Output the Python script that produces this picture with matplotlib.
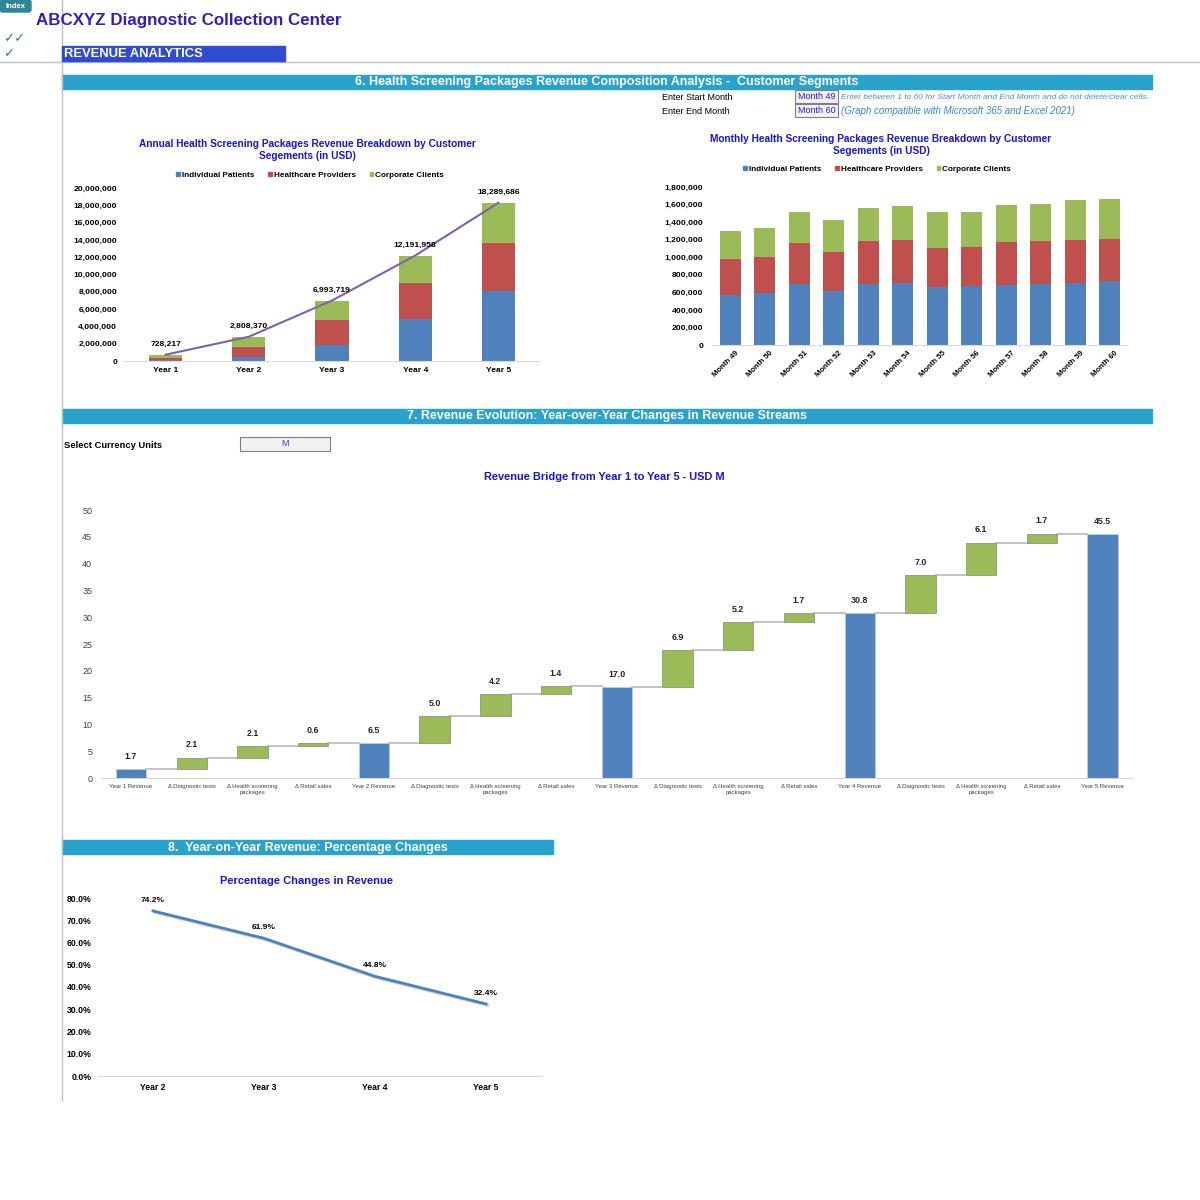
import matplotlib
matplotlib.use("Agg")
import matplotlib.pyplot as plt
from matplotlib.patches import Rectangle, FancyBboxPatch, Patch
from matplotlib.ticker import FuncFormatter
from matplotlib.transforms import ScaledTranslation
import matplotlib.patheffects as pe

plt.rcParams['font.family'] = ['Liberation Sans', 'DejaVu Sans']

# ---- data ----
years = ["Year 1", "Year 2", "Year 3", "Year 4", "Year 5"]
annual_individual = [150000, 420000, 1850000, 4850000, 8100000]
annual_providers = [250000, 1230000, 2850000, 4200000, 5500000]
annual_totals = [728217, 2808370, 6993719, 12191958, 18289686]
annual_corporate = [t - a - b for t, a, b in zip(annual_totals, annual_individual, annual_providers)]

months = ["Month 49", "Month 50", "Month 51", "Month 52", "Month 53", "Month 54",
          "Month 55", "Month 56", "Month 57", "Month 58", "Month 59", "Month 60"]
month_individual = [570000, 595000, 700000, 620000, 695000, 710000, 660000, 670000, 685000, 695000, 710000, 730000]
month_providers = [405000, 405000, 465000, 445000, 490000, 490000, 445000, 445000, 490000, 490000, 490000, 480000]
month_corporate = [325000, 330000, 355000, 355000, 380000, 380000, 405000, 405000, 425000, 425000, 450000, 455000]

segments = ["Individual Patients", "Healthcare Providers", "Corporate Clients"]

bridge_totals = [1.7, 6.5, 17.0, 30.8, 45.5]
bridge_deltas = [[2.1, 2.1, 0.6], [5.0, 4.2, 1.4], [6.9, 5.2, 1.7], [7.0, 6.1, 1.7]]
delta_names = ["Δ Diagnostic tests", "Δ Health screening\npackages", "Δ Retail sales"]

pct_years = ["Year 2", "Year 3", "Year 4", "Year 5"]
pct_change = [0.742, 0.619, 0.448, 0.324]

BLUE = "#4F81BD"
RED = "#C0504D"
GREEN = "#9BBB59"
PURPLE = "#8064A2"
BAND = "#29A3CC"
TITLE_BLUE = "#1414E6"

fig = plt.figure(figsize=(12, 12), dpi=100)

base = fig.add_axes([0, 0, 1, 1])
base.set_xlim(0, 1200)
base.set_ylim(1200, 0)
base.axis("off")


def px_axes(x0, y0, x1, y1):
    return fig.add_axes([x0 / 1200, 1 - y1 / 1200, (x1 - x0) / 1200, (y1 - y0) / 1200])


def band(x0, x1, y0, y1, text, cx=None):
    base.add_patch(Rectangle((x0, y0), x1 - x0, y1 - y0, color=BAND, zorder=1))
    if cx is None:
        cx = (x0 + x1) / 2
    base.text(cx, (y0 + y1) / 2 + 0.5, text, color="white", fontsize=9, fontweight="bold",
              ha="center", va="center")


# ---- page furniture ----
base.plot([62, 62], [0, 1100], color="#BDBDBD", lw=1)
base.plot([0, 1200], [62, 62], color="#BDBDBD", lw=1)
base.add_patch(FancyBboxPatch((0, 0), 31, 12, boxstyle="round,pad=0,rounding_size=2.5",
                              color="#2F8597", zorder=2))
base.text(15.5, 6, "Index", color="white", fontsize=5.5, fontweight="bold", ha="center", va="center", zorder=3)
base.text(36, 21, "ABCXYZ Diagnostic Collection Center", color="#2E1FC0", fontsize=12.2,
          fontweight="bold", ha="left", va="center")
base.text(3, 39, "✓✓", color="#2E8B57", fontsize=9.5, ha="left", va="center", family="DejaVu Sans")
base.text(3, 54, "✓", color="#2E8B57", fontsize=9.5, ha="left", va="center", family="DejaVu Sans")
base.add_patch(Rectangle((62, 46), 223, 15, color="#2E4BD2", zorder=2))
base.text(64, 54, "REVENUE ANALYTICS", color="white", fontsize=9.4, fontweight="bold",
          ha="left", va="center", zorder=3)

band(62, 1152, 75, 89, "6. Health Screening Packages Revenue Composition Analysis -  Customer Segments", cx=607)
band(62, 1152, 409, 423, "7. Revenue Evolution: Year-over-Year Changes in Revenue Streams", cx=607)
band(62, 553, 840, 854, "8.  Year-on-Year Revenue: Percentage Changes")

base.text(662, 97, "Enter Start Month", fontsize=6.5, ha="left", va="center")
base.text(662, 111, "Enter End Month", fontsize=6.5, ha="left", va="center")
for yy, lab in [(90, "Month 49"), (104, "Month 60")]:
    base.add_patch(Rectangle((795, yy), 43, 13, facecolor="#F2F2F2", edgecolor="#808080", lw=0.8))
    base.text(816.5, yy + 6.5, lab, color="#1F1FF0", fontsize=6.5, ha="center", va="center")
base.text(841, 97.5, "Enter between 1 to 60 for Start Month and End Month and do not delete/clear cells.",
          color="#4A90D0", fontsize=6, style="italic", ha="left", va="center")
base.text(841, 111, "(Graph compatible with Microsoft 365 and Excel 2021)",
          color="#3A86D0", fontsize=7, style="italic", ha="left", va="center")

base.text(64, 445, "Select Currency Units", fontsize=6.75, fontweight="bold", ha="left", va="center")
base.add_patch(Rectangle((240, 437), 90, 14, facecolor="#F2F2F2", edgecolor="#808080", lw=0.8))
base.text(285, 443.5, "M", color="#3A3AF0", fontsize=6.5, ha="center", va="center")

# chart titles
base.text(307, 150, "Annual Health Screening Packages Revenue Breakdown by Customer\nSegements (in USD)",
          color=TITLE_BLUE, fontsize=7.3, fontweight="bold", ha="center", va="center", linespacing=1.2)
base.text(881, 145, "Monthly Health Screening Packages Revenue Breakdown by Customer\nSegements (in USD)",
          color=TITLE_BLUE, fontsize=7.3, fontweight="bold", ha="center", va="center", linespacing=1.2)
base.text(604, 477.5, "Revenue Bridge from Year 1 to Year 5 - USD M",
          color=TITLE_BLUE, fontsize=7.9, fontweight="bold", ha="center", va="center")
base.text(306, 881.5, "Percentage Changes in Revenue",
          color=TITLE_BLUE, fontsize=8, fontweight="bold", ha="center", va="center")

thousands = FuncFormatter(lambda v, p: f"{int(v):,}")
handles = [Patch(color=BLUE), Patch(color=RED), Patch(color=GREEN)]


def style_axes(ax, pad, size=6.1, weight="bold", color="black"):
    for s in ["top", "right", "left"]:
        ax.spines[s].set_visible(False)
    ax.spines["bottom"].set_color("#D9D9D9")
    ax.tick_params(length=0, pad=pad)
    for lab in ax.get_yticklabels() + ax.get_xticklabels():
        lab.set_fontsize(size)
        lab.set_fontweight(weight)
        lab.set_color(color)


# ---- chart 1: annual stacked ----
ax1 = px_axes(124, 188, 540, 361)
x = range(len(years))
ax1.bar(x, annual_individual, width=0.4, color=BLUE)
ax1.bar(x, annual_providers, width=0.4, bottom=annual_individual, color=RED)
b2 = [a + b for a, b in zip(annual_individual, annual_providers)]
ax1.bar(x, annual_corporate, width=0.4, bottom=b2, color=GREEN)
ax1.plot(x, annual_totals, color=PURPLE, lw=1.5)
for i, t in enumerate(annual_totals):
    ax1.annotate(f"{t:,}", (i, t), xytext=(0, 5), textcoords="offset points",
                 ha="center", va="bottom", fontsize=6.1, fontweight="bold")
ax1.set_xlim(-0.5, 4.5)
ax1.set_ylim(0, 20000000)
ax1.set_yticks(range(0, 20000001, 2000000))
ax1.yaxis.set_major_formatter(thousands)
ax1.set_xticks(list(x))
ax1.set_xticklabels(years)
style_axes(ax1, pad=5)
ax1.tick_params(axis="x", pad=4)
ax1.legend(handles, segments, loc="center", bbox_to_anchor=(310 / 1200, 1 - 175.5 / 1200),
           bbox_transform=fig.transFigure, ncol=3, frameon=False, handlelength=0.45,
           handleheight=0.45, handletextpad=0.25, columnspacing=1.7,
           prop={"size": 5.9, "weight": "bold"})

# ---- chart 2: monthly stacked ----
ax2 = px_axes(713, 187, 1127, 345)
xm = range(len(months))
ax2.bar(xm, month_individual, width=0.6, color=BLUE)
ax2.bar(xm, month_providers, width=0.6, bottom=month_individual, color=RED)
mb = [a + b for a, b in zip(month_individual, month_providers)]
ax2.bar(xm, month_corporate, width=0.6, bottom=mb, color=GREEN)
ax2.set_xlim(-0.5, 11.5)
ax2.set_ylim(0, 1800000)
ax2.set_yticks(range(0, 1800001, 200000))
ax2.yaxis.set_major_formatter(thousands)
ax2.set_xticks(list(xm))
ax2.set_xticklabels(months, rotation=45, ha="right", rotation_mode="anchor")
style_axes(ax2, pad=7, size=6.1)
ax2.tick_params(axis="x", pad=3)
shift = ScaledTranslation(5 / 100, 0, fig.dpi_scale_trans)
for lab in ax2.get_xticklabels():
    lab.set_fontsize(5.5)
    lab.set_transform(lab.get_transform() + shift)

ax2.legend(handles, segments, loc="center", bbox_to_anchor=(877 / 1200, 1 - 169.5 / 1200),
           bbox_transform=fig.transFigure, ncol=3, frameon=False, handlelength=0.45,
           handleheight=0.45, handletextpad=0.25, columnspacing=1.7,
           prop={"size": 5.9, "weight": "bold"})

# ---- chart 3: revenue bridge ----
ax3 = px_axes(100.6, 510, 1133, 778)
labels = []
bottoms = []
heights = []
colors = []
for i, tot in enumerate(bridge_totals):
    labels.append(f"Year {i + 1} Revenue")
    bottoms.append(0)
    heights.append(tot)
    colors.append(BLUE)
    if i < len(bridge_deltas):
        run = tot
        for name, d in zip(delta_names, bridge_deltas[i]):
            labels.append(name)
            bottoms.append(run)
            heights.append(d)
            colors.append(GREEN)
            run += d
w = 0.5
xs = list(range(len(labels)))
for xi, b, h, c in zip(xs, bottoms, heights, colors):
    ec = "#8A9A7A" if c == GREEN else "#B8CCE4"
    ax3.bar(xi, h, bottom=b, width=w, color=c, edgecolor=ec, lw=0.6, zorder=3)
    ax3.annotate(f"{h:.1f}", (xi, b + h), xytext=(0, 6), textcoords="offset points",
                 ha="center", va="bottom", fontsize=6.4, fontweight="bold", color="#262626")
for xi in xs[:-1]:
    level = bottoms[xi] + heights[xi]
    ax3.plot([xi + w / 2, xi + 1 - w / 2], [level, level], color="#BFBFBF", lw=1.3, zorder=2)
ax3.set_xlim(-0.5, len(labels) - 0.5)
ax3.set_ylim(0, 50)
ax3.set_yticks(range(0, 51, 5))
ax3.set_xticks(xs)
ax3.set_xticklabels(labels, linespacing=1.4)
style_axes(ax3, pad=6, size=6.5, weight="normal", color="#404040")
for lab in ax3.get_xticklabels():
    lab.set_fontsize(4.3)
    lab.set_color("#404040")
ax3.tick_params(axis="x", pad=4)

# ---- chart 4: percentage changes ----
ax4 = px_axes(97.5, 898, 541.5, 1076)
xp = range(len(pct_years))
ax4.plot(xp, pct_change, color=BLUE, lw=2.0,
         path_effects=[pe.SimpleLineShadow(offset=(1, -1), alpha=0.2), pe.Normal()])
for i, v in enumerate(pct_change):
    ax4.annotate(f"{v * 100:.1f}%", (i, v), xytext=(0, 5), textcoords="offset points",
                 ha="center", va="bottom", fontsize=6, fontweight="bold")
ax4.set_xlim(-0.5, 3.5)
ax4.set_ylim(0, 0.8)
ax4.set_yticks([i / 10 for i in range(9)])
ax4.yaxis.set_major_formatter(FuncFormatter(lambda v, p: f"{v * 100:.1f}%"))
ax4.set_xticks(list(xp))
ax4.set_xticklabels(pct_years)
style_axes(ax4, pad=4.5, size=6.2)
ax4.tick_params(axis="x", pad=5)

fig.savefig("out.png", dpi=100)
